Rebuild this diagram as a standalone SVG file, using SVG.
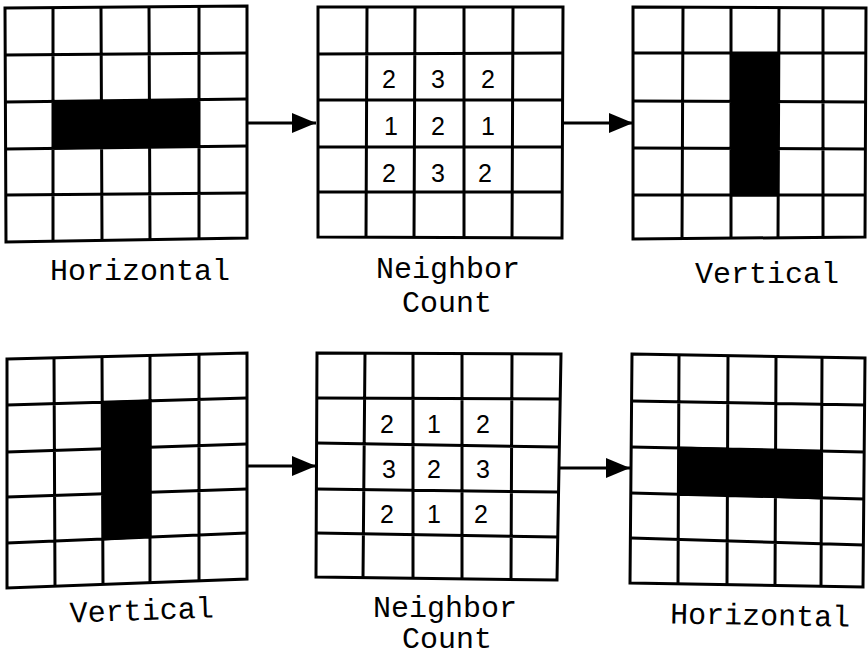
<svg xmlns="http://www.w3.org/2000/svg" width="868" height="658" viewBox="0 0 868 658">
<style>
.g{fill:none;stroke:#000;stroke-width:3;stroke-linejoin:miter}
.f{fill:#000;stroke:#000;stroke-width:1}
.c{stroke:#000;stroke-width:3;fill:none}
.n{font-family:"Liberation Sans",Arial,sans-serif;font-size:25px;fill:#000;text-anchor:middle}
.l{font-family:"Liberation Mono","Courier New",monospace;font-size:30px;fill:#000;text-anchor:middle}
</style>
<defs>
<marker id="ah" viewBox="0 0 24 20" refX="24" refY="10" markerWidth="24" markerHeight="20" markerUnits="userSpaceOnUse" orient="auto">
<path d="M0,0 L24,10 L0,20 Z" fill="#000"/>
</marker>
</defs>
<rect width="868" height="658" fill="#fff"/>

<g id="grid-horizontal-top">
<path class="f" d="M53,102 L199,99 L199,146 L54,149 Z"/>
<path class="g" d="M5,8 L247,6 L247,238 L6,242 Z"/>
<path class="g" d="M53,8 L53,242 M101,7 L102,241 M149,7 L150,240 M199,6 L199,239 M5,55 L247,53 M5,102 L247,99 M6,149 L247,146 M6,195 L247,193"/>
<text class="l" x="140" y="280">Horizontal</text>
</g>

<g id="grid-count-top">
<path class="g" d="M318,7 L563,7 L562,238 L318,237 Z"/>
<path class="g" d="M367,7 L366,237 M415,7 L414,237 M464,7 L464,238 M513,7 L512,238 M318,54 L563,53 M318,100 L563,100 M318,147 L563,147 M318,192 L562,192"/>
<g class="n">
<text x="389" y="88">2</text><text x="438" y="88">3</text><text x="488" y="88">2</text>
<text x="391" y="135">1</text><text x="438" y="135">2</text><text x="488" y="135">1</text>
<text x="389" y="182">2</text><text x="438" y="182">3</text><text x="485" y="182">2</text>
</g>
<text class="l" x="448" y="278">Neighbor</text>
<text class="l" x="447" y="312">Count</text>
</g>

<g id="grid-vertical-top">
<path class="f" d="M731,54 L778,54 L778,196 L731,196 Z"/>
<path class="g" d="M633,7 L866,8 L865,237 L633,239 Z"/>
<path class="g" d="M683,7 L682,239 M731,7 L731,238 M779,7 L778,238 M823,8 L823,237 M633,53 L866,53 M633,101 L866,102 M633,148 L866,149 M633,195 L866,195"/>
<text class="l" x="767" y="283">Vertical</text>
</g>

<g id="grid-vertical-bottom">
<path class="f" d="M102,402 L151,400 L151,537 L103,540 Z"/>
<path class="g" d="M7,359 L247,353 L247,579 L7,588 Z"/>
<path class="g" d="M54,358 L55,586 M102,357 L103,585 M150,356 L150,583 M199,354 L199,581 M7,405 L247,398 M7,452 L247,444 M7,497 L247,489 M7,543 L247,533"/>
<text class="l" x="142" y="620" transform="rotate(-2 142 620)">Vertical</text>
</g>

<g id="grid-count-bottom">
<path class="g" d="M317,353 L561,354 L557,580 L316,577 Z"/>
<path class="g" d="M365,353 L363,578 M413,353 L413,578 M462,353 L462,579 M512,354 L511,579 M317,398 L560,399 M317,443 L559,447 M316,489 L558,492 M316,533 L558,537"/>
<g class="n">
<text x="387" y="433">2</text><text x="434" y="433">1</text><text x="483" y="433">2</text>
<text x="389" y="478">3</text><text x="434" y="478">2</text><text x="483" y="478">3</text>
<text x="387" y="523">2</text><text x="434" y="523">1</text><text x="481" y="523">2</text>
</g>
<text class="l" x="445" y="617">Neighbor</text>
<text class="l" x="447" y="648">Count</text>
</g>

<g id="grid-horizontal-bottom">
<path class="f" d="M679,447 L822,451 L822,499 L679,494 Z"/>
<path class="g" d="M632,354 L865,358 L863,587 L630,583 Z"/>
<path class="g" d="M679,355 L678,584 M728,356 L727,585 M776,357 L775,585 M822,357 L821,586 M632,401 L865,405 M631,447 L864,452 M631,493 L864,499 M631,538 L864,545"/>
<text class="l" x="760" y="625" transform="rotate(1 760 625)">Horizontal</text>
</g>

<g id="connectors">
<path class="c" d="M247,123 L316,123" marker-end="url(#ah)"/>
<path class="c" d="M563,123 L633,123" marker-end="url(#ah)"/>
<path class="c" d="M247,466 L316,466" marker-end="url(#ah)"/>
<path class="c" d="M560,468 L630,468" marker-end="url(#ah)"/>
</g>
</svg>
